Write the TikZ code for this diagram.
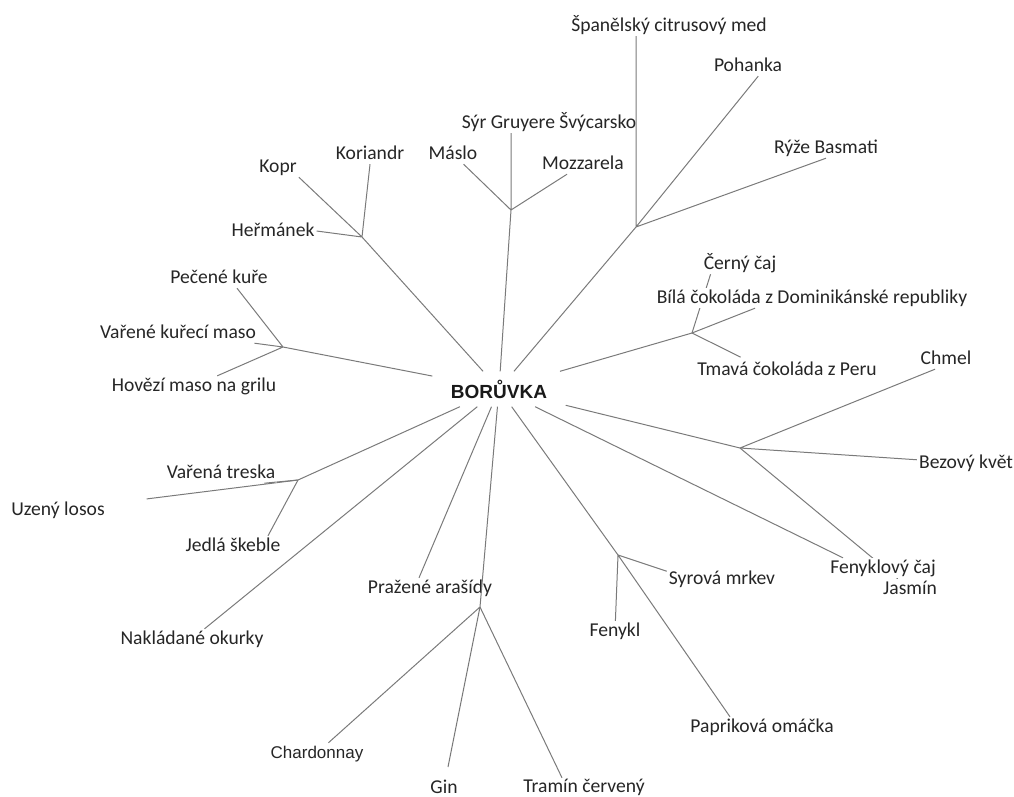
\documentclass[tikz,border=0pt]{standalone}
\usepackage{fontspec}
\setmainfont{Carlito}
\newfontfamily\arialfont{Liberation Sans}
\usetikzlibrary{positioning}
\pgfdeclarelayer{bg}
\pgfsetlayers{bg,main}

\begin{document}
\begin{tikzpicture}[x=1pt, y=-1pt,
		lbl/.style={fill=white, inner xsep=2pt, inner ysep=1pt, text height=14pt, text depth=4pt, text=black!85, font=\fontsize{19.6}{22}\selectfont},
		low/.style={lbl, inner ysep=0pt, text depth=2pt},
		edge/.style={draw=black!52, line width=1pt}]
				\useasboundingbox (0,0) rectangle (1014,796);
				\node[font=\arialfont\bfseries\fontsize{19}{22}\selectfont, text=black!90, minimum width=133pt, minimum height=35pt, inner sep=0pt] (bor) at (499,389) {BORŮVKA};
				\node[lbl] (spanel) at (669,26) {Španělský citrusový med};
				\node[lbl] (pohanka) at (748,66) {Pohanka};
				\node[lbl] (ryze) at (826,148) {Rýže Basmati};
				\node[lbl] (syr) at (549,123) {Sýr Gruyere Švýcarsko};
				\node[lbl] (maslo) at (453,154) {Máslo};
				\node[lbl] (mozz) at (583,164) {Mozzarela};
				\node[lbl] (koriandr) at (370,154) {Koriandr};
				\node[lbl] (kopr) at (278,167) {Kopr};
				\node[lbl] (hermanek) at (273,231) {Heřmánek};
				\node[lbl] (pecene) at (219,278) {Pečené kuře};
				\node[lbl] (varkure) at (178,333) {Vařené kuřecí maso};
				\node[lbl] (hovezi) at (194,386) {Hovězí maso na grilu};
				\node[lbl] (cerny) at (740,264) {Černý čaj};
				\node[lbl] (bila) at (812,298) {Bílá čokoláda z Dominikánské republiky};
				\node[lbl] (tmava) at (787,370) {Tmavá čokoláda z Peru};
				\node[lbl] (chmel) at (946,359) {Chmel};
				\node[lbl] (bez) at (966,463) {Bezový květ};
				\node[lbl] (fencaj) at (883,568) {Fenyklový čaj};
				\node[lbl] (jasmin) at (910,589) {Jasmín};
				\node[lbl] (mrkev) at (722,579) {Syrová mrkev};
				\node[lbl] (fenykl) at (615,631) {Fenykl};
				\node[lbl] (paprika) at (762,727) {Papriková omáčka};
				\node[low] (tramin) at (584,786) {Tramín červený};
				\node[low] (gin) at (444,787) {Gin};
				\node[lbl, font=\arialfont\fontsize{17}{20}\selectfont] (chard) at (317,753) {Chardonnay};
				\node[lbl] (arasidy) at (430,588) {Pražené arašídy};
				\node[lbl] (okurky) at (192,639) {Nakládané okurky};
				\node[lbl] (skeble) at (233,546) {Jedlá škeble};
				\node[lbl] (losos) at (58,510) {Uzený losos};
				\node[lbl] (treska) at (221,473) {Vařená treska};
				\coordinate (jher) at (362,237);
				\coordinate (jsyr) at (511,210);
				\coordinate (jspa) at (636,227);
				\coordinate (jcoko) at (692,333);
				\coordinate (jchmel) at (740,448);
				\coordinate (jmrkev) at (618,555);
				\coordinate (jgin) at (480,607);
				\coordinate (jtreska) at (298,480);
				\coordinate (jkure) at (283,347);
				\begin{pgfonlayer}{bg}
				\draw[edge] (jcoko) -- ([xshift=9pt]cerny.south west);
				\draw[edge] (jchmel) -- (jasmin);
				\draw[edge, shorten >=40pt] (jtreska) -- (losos);
				\end{pgfonlayer}
				\draw[edge] (bor) -- (jher) (jher) -- (kopr.south east) (jher) -- (koriandr.south) (jher) -- (hermanek.east);
				\draw[edge] (bor) -- (jsyr) (jsyr) -- (maslo) (jsyr) -- (jsyr |- syr.south) (jsyr) -- (mozz);
				\draw[edge] (bor) -- (jspa) (jspa) -- (jspa |- spanel.south) (jspa) -- (pohanka.-45) (jspa) -- (ryze.south);
				\draw[edge] (bor) -- (jcoko) (jcoko) -- ([xshift=-57pt]bila.south);
				\draw[edge, shorten >=6pt] (jcoko) -- ([xshift=-41pt]tmava.north);
				\draw[edge] (bor) -- (jchmel) (jchmel) -- ([xshift=-11pt]chmel.south) (jchmel) -- (bez);
				\draw[edge] (bor) -- ([xshift=-40pt]fencaj.north);
				\draw[edge] (bor) -- (jmrkev) (jmrkev) -- (mrkev.172) (jmrkev) -- (fenykl) (jmrkev) -- ([xshift=-32pt]paprika.north);
				\draw[edge] (bor) -- (jgin) (jgin) -- (chard) (jgin) -- ([xshift=-22pt]tramin.north);
				\draw[edge, shorten >=12pt] (jgin) -- (gin);
				\draw[edge] (bor) -- ([xshift=-11pt]arasidy.north);
				\draw[edge] (bor) -- (okurky);
				\draw[edge] (bor) -- (jtreska) (jtreska) -- ([xshift=-13pt]treska.south east) (jtreska) -- ([xshift=35pt]skeble.north);
				\draw[edge] (bor) -- (jkure) (jkure) -- ([xshift=18pt]pecene.south) (jkure) -- (varkure) (jkure) -- (hovezi);
			\end{tikzpicture}
\end{document}
